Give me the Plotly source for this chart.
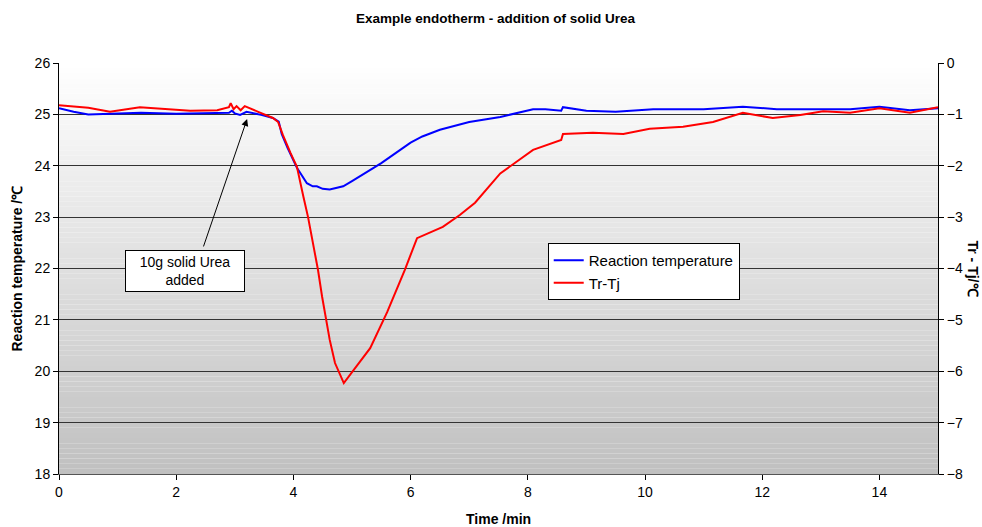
import plotly.graph_objects as go

# ---- data ----
t_reaction = [0, 0.25, 0.5, 1.0, 1.4, 2.0, 2.5, 2.9, 2.95, 3.0, 3.09, 3.2, 3.45, 3.65, 3.75, 3.8,
              3.9, 4.06, 4.23, 4.33, 4.4, 4.5, 4.62, 4.74, 4.85, 5.0, 5.25, 5.5, 5.75, 6.0, 6.2,
              6.5, 7.0, 7.53, 8.09, 8.3, 8.57, 8.6, 9.0, 9.5, 10.14, 11.0, 11.67, 12.25, 13.0,
              13.5, 14.0, 14.52, 15.0]
reaction_temp = [25.12, 25.05, 25.0, 25.02, 25.03, 25.01, 25.02, 25.03, 25.07, 25.02, 24.99, 25.05,
                 24.99, 24.93, 24.86, 24.62, 24.35, 23.96, 23.66, 23.6, 23.6, 23.55, 23.54, 23.57,
                 23.6, 23.7, 23.87, 24.05, 24.25, 24.45, 24.57, 24.7, 24.85, 24.95, 25.1, 25.1,
                 25.07, 25.14, 25.07, 25.05, 25.1, 25.1, 25.15, 25.1, 25.1, 25.1, 25.15, 25.08, 25.12]

t_diff = [0, 0.5, 0.87, 1.38, 2.24, 2.7, 2.9, 2.93, 2.98, 3.03, 3.1, 3.17, 3.4, 3.65, 3.74, 3.82,
          3.95, 4.06, 4.17, 4.25, 4.42, 4.49, 4.62, 4.71, 4.86, 5.31, 5.6, 5.9, 6.11, 6.55, 6.84,
          7.1, 7.53, 8.09, 8.57, 8.6, 9.11, 9.63, 10.08, 10.65, 11.16, 11.67, 12.18, 12.65, 13.04,
          13.5, 14.0, 14.52, 15.0]
tr_tj = [-0.82, -0.87, -0.95, -0.86, -0.93, -0.92, -0.86, -0.78, -0.9, -0.84, -0.92, -0.84, -0.95,
         -1.07, -1.15, -1.4, -1.75, -2.02, -2.6, -3.0, -4.03, -4.55, -5.39, -5.84, -6.23, -5.55,
         -4.85, -4.03, -3.41, -3.19, -2.96, -2.72, -2.15, -1.69, -1.5, -1.38, -1.36, -1.38, -1.28,
         -1.24, -1.15, -0.97, -1.07, -1.01, -0.94, -0.97, -0.88, -0.97, -0.86]

x_ticks = [0, 2, 4, 6, 8, 10, 12, 14]

FONT = "Liberation Sans, Arial, sans-serif"

fig = go.Figure()
fig.add_trace(go.Scatter(x=t_reaction, y=reaction_temp, name="Reaction temperature",
                         mode="lines", line=dict(color="#0000FF", width=2)))
fig.add_trace(go.Scatter(x=t_diff, y=tr_tj, name="Tr-Tj", yaxis="y2",
                         mode="lines", line=dict(color="#FF0000", width=2)))

# vertical gradient background (white top -> grey bottom)
n = 80
shapes = []
for i in range(n):
    f = (i + 0.5) / n
    g = int(round(255 - (255 - 192) * (1 - f)))
    shapes.append(dict(type="rect", xref="x domain", yref="y domain",
                       x0=0, x1=1, y0=i / n, y1=(i + 1) / n,
                       fillcolor=f"rgb({g},{g},{g})", line=dict(width=0), layer="below"))

fig.update_layout(
    width=982, height=527,
    margin=dict(l=59, r=44, t=63, b=53),
    paper_bgcolor="white", plot_bgcolor="rgba(0,0,0,0)",
    font=dict(family=FONT, size=14, color="#000"),
    shapes=shapes,
    showlegend=True,
    legend=dict(x=0.556, y=0.562, xanchor="left", yanchor="top",
                bgcolor="white", bordercolor="#000", borderwidth=1,
                font=dict(family=FONT, size=15), tracegroupgap=0, entrywidth=160),
    xaxis=dict(range=[0, 15], tickvals=x_ticks, ticks="outside", ticklen=5,
               tickcolor="#000", showline=True, linecolor="#555", linewidth=1,
               showgrid=False, zeroline=False, tickfont=dict(size=14)),
    yaxis=dict(range=[18, 26], dtick=1, ticks="outside", ticklen=5, tickcolor="#000",
               showline=True, linecolor="#000", linewidth=1,
               showgrid=True, gridcolor="#333", gridwidth=1, zeroline=False,
               tickfont=dict(size=14)),
    yaxis2=dict(range=[-8, 0], dtick=1, overlaying="y", side="right", ticks="outside",
                ticklen=5, tickcolor="#000", showline=True, linecolor="#000", linewidth=1,
                showgrid=False, zeroline=False, tickfont=dict(size=14)),
    annotations=[
        dict(text="<b>Example endotherm - addition of solid Urea</b>", xref="paper", yref="paper",
             x=0.497, y=1, yshift=45, xanchor="center", yanchor="middle", showarrow=False,
             font=dict(size=13.5)),
        dict(text="<b>Time /min</b>", xref="paper", yref="paper", x=0.5, y=0, yshift=-45,
             xanchor="center", yanchor="middle", showarrow=False, font=dict(size=14)),
        dict(text="<b>Reaction temperature /℃</b>", xref="paper", yref="paper", x=0, y=0.5,
             xshift=-43, xanchor="center", yanchor="middle", textangle=-90, showarrow=False,
             font=dict(size=14)),
        dict(text="<b>Tr - Tj/℃</b>", xref="paper", yref="paper", x=1, y=0.5,
             xshift=35, xanchor="center", yanchor="middle", textangle=90, showarrow=False,
             font=dict(size=14)),
        dict(text="", x=3.21, y=24.91, xref="x", yref="y", ax=2.457, ay=22.40,
             axref="x", ayref="y", showarrow=True, arrowhead=2, arrowsize=1.4,
             arrowwidth=1, arrowcolor="#000"),
        dict(text="10g solid Urea<br>added", x=2.15, y=21.95, xref="x", yref="y",
             showarrow=False, bgcolor="white", bordercolor="#000", borderwidth=1,
             width=116, height=38, font=dict(size=14)),
    ],
)

fig.write_html("out.html", config={"displayModeBar": False},
               post_script="document.body.style.margin='0';")
